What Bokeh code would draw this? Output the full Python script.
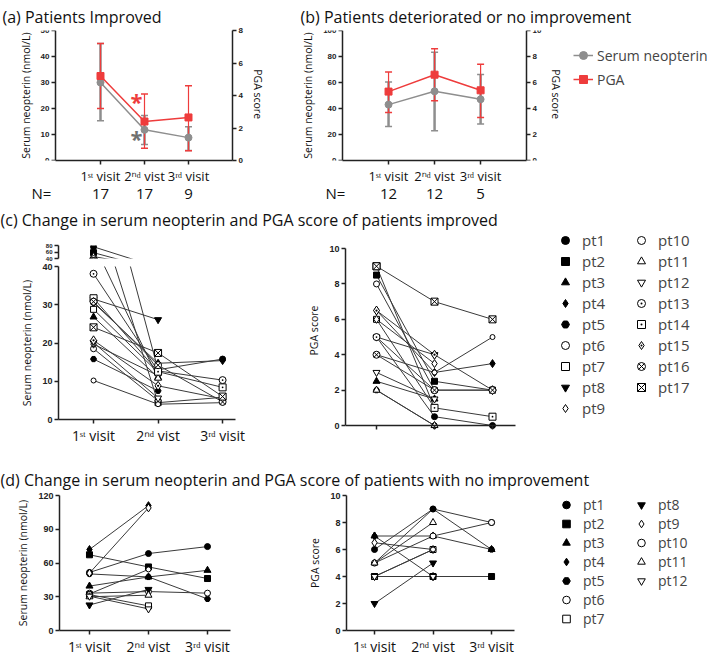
from bokeh.plotting import figure
from bokeh.models import (Range1d, LinearAxis, FixedTicker, SingleIntervalTicker, Whisker, TeeHead,
                          ColumnDataSource, Legend, LegendItem, Label)
from bokeh.layouts import column, row
from bokeh.embed import file_html
from bokeh.resources import INLINE

# ---------------- data ----------------
visits = [1, 2, 3]
visit_labels = ["1ˢᵗ visit", "2ⁿᵈ vist", "3ʳᵈ visit"]

# (a) patients improved: mean and error-bar limits
a_neo_mean = [30.0, 11.8, 8.8]
a_neo_lo = [15.3, 6.2, 3.8]
a_neo_hi = [45.0, 17.3, 13.0]
a_pga_mean = [5.2, 2.4, 2.65]
a_pga_lo = [3.2, 0.75, 0.6]
a_pga_hi = [7.2, 4.1, 4.6]
a_n = [17, 17, 9]

# (b) deteriorated / no improvement
b_neo_mean = [43.0, 53.2, 47.1]
b_neo_lo = [26.2, 22.9, 28.0]
b_neo_hi = [60.3, 83.2, 66.2]
b_pga_mean = [5.3, 6.6, 5.4]
b_pga_lo = [3.7, 4.6, 3.3]
b_pga_hi = [6.8, 8.6, 7.4]
b_n = [12, 12, 5]

# (c) individual patients improved
c_names = ["pt1", "pt2", "pt3", "pt4", "pt5", "pt6", "pt7", "pt8", "pt9",
           "pt10", "pt11", "pt12", "pt13", "pt14", "pt15", "pt16", "pt17"]
c_neo = [
    [76.0, 13.0, 15.8], [58.0, 4.4, 5.8], [26.8, 11.0], [30.5, 14.7, 15.4],
    [15.8, 7.5], [18.5, 4.9], [28.8, 12.3], [31.5, 26.1], [19.7, 11.5],
    [10.2, 4.0, 4.4], [46.0, 10.8], [20.1, 5.6], [38.1, 12.7, 10.3],
    [31.7, 12.5, 8.4], [20.7, 8.8, 5.4], [30.8, 14.2, 4.6], [24.1, 17.4, 6.0],
]
c_pga = [
    [5, 0.5, 0], [8.5, 2.5, 2], [2.5, 1.5], [6.5, 3, 3.5], [2, 0], [8, 2],
    [6, 1], [5, 4], [6, 3.5], [4, 3, 5], [2, 0], [3, 1.5], [5, 2, 2],
    [9, 1, 0.5], [6.5, 4, 2], [4, 2, 2], [9, 7, 6],
]

# (d) individual patients with no improvement
d_names = c_names[:12]
d_neo = [
    [51.6, 68.4, 74.6], [67.3, 56.5, 46.2], [39.5, 47.6, 53.5], [72.0, 111.0],
    [50.3, 47.6, 28.1], [33.2, 34.6, 33.2], [31.9, 21.9], [22.7, 36.5],
    [51.0, 109.0], [32.5, 54.3], [30.0, 31.4], [30.5, 19.2],
]
d_pga = [
    [6, 9, 8], [4, 4, 4], [7, 7, 6], [7, 4], [5, 9, 6], [5, 7, 8],
    [4, 6], [2, 5], [6.5, 6], [4, 6], [5, 8], [4, 4],
]

MARKERS = ["circle", "square", "triangle", "diamond", "hex", "circle", "square",
           "inverted_triangle", "diamond", "circle", "triangle", "inverted_triangle",
           "circle_dot", "square_dot", "diamond_dot", "circle_x", "square_x"]
FILLED = [1, 1, 1, 1, 1, 0, 0, 1, 0, 0, 0, 0, 0, 0, 0, 0, 0]
SIZES = [6, 6, 7, 8, 6, 6, 6, 7, 8, 5, 7, 7, 7, 7, 9, 7, 7]

# ---------------- style ----------------
FONT = "Open Sans"
TFONT = "Liberation Sans"
AX = "#222222"
GREY = "#8e8e8e"
RED = "#ee3c3c"
LINE = "#3a3a3a"
TXT = "#111111"


def new_fig(xr, yr, fw, fh, ml, mr, mt, mb, title=None):
    p = figure(x_range=xr, y_range=yr, frame_width=fw, frame_height=fh,
               min_border_left=ml, min_border_right=mr, min_border_top=mt, min_border_bottom=mb,
               x_axis_location=None, y_axis_location=None, toolbar_location=None,
               output_backend="svg", title=title)
    p.outline_line_color = None
    p.grid.visible = False
    if title:
        p.title.text_font = FONT
        p.title.text_font_size = "16px"
        p.title.text_font_style = "normal"
        p.title.text_color = TXT
        p.title.standoff = 5
    return p


def style(ax, size):
    ax.axis_line_color = AX
    ax.axis_line_width = 1.5
    ax.major_tick_line_color = AX
    ax.major_tick_line_width = 1.5
    ax.major_tick_out = 4
    ax.major_tick_in = 0
    ax.minor_tick_line_color = None
    ax.major_label_text_font = TFONT
    ax.major_label_text_font_style = "bold"
    ax.major_label_text_font_size = size
    ax.major_label_text_color = AX
    ax.major_label_standoff = 2
    ax.axis_label_text_font = FONT
    ax.axis_label_text_font_style = "normal"
    ax.axis_label_text_font_size = "10.5px"
    ax.axis_label_text_color = TXT
    ax.axis_label_standoff = 5


def add_y(p, interval, bounds, side, label, name="default", size="8px", fixed=None):
    ax = LinearAxis(y_range_name=name, ticker=SingleIntervalTicker(interval=interval),
                    bounds=bounds, axis_label=label)
    if fixed is not None:
        ax.fixed_location = fixed
    style(ax, size)
    p.add_layout(ax, side)
    return ax


def add_x(p, bounds=None, fixed=None, size="14px"):
    ax = LinearAxis(ticker=FixedTicker(ticks=visits),
                    major_label_overrides={v: t for v, t in zip(visits, visit_labels)})
    if bounds is not None:
        ax.bounds = bounds
    if fixed is not None:
        ax.fixed_location = fixed
    style(ax, size)
    ax.major_label_text_font = FONT
    ax.major_label_text_font_style = "normal"
    ax.major_label_text_color = TXT
    ax.major_label_standoff = 2
    p.add_layout(ax, "below")
    return ax


def add_n(p, counts, nx):
    ticks = [nx] + visits
    labels = {nx: "N="}
    labels.update({v: str(c) for v, c in zip(visits, counts)})
    ax = LinearAxis(ticker=FixedTicker(ticks=ticks), major_label_overrides=labels)
    ax.axis_line_color = None
    ax.major_tick_line_color = None
    ax.minor_tick_line_color = None
    ax.major_tick_out = 0
    ax.major_tick_in = 0
    ax.major_label_standoff = -5
    ax.major_label_text_font = FONT
    ax.major_label_text_font_size = "15px"
    ax.major_label_text_color = TXT
    p.add_layout(ax, "below")


def summary(p, mean, lo, hi, color, marker, name, bar_w):
    src = ColumnDataSource(dict(x=visits, m=mean, lo=lo, hi=hi))
    w = Whisker(source=src, base="x", lower="lo", upper="hi", line_color=color, line_width=bar_w,
                upper_head=TeeHead(size=7, line_color=color, line_width=1.5),
                lower_head=TeeHead(size=7, line_color=color, line_width=1.5),
                y_range_name=name)
    p.add_layout(w)
    ln = p.line("x", "m", source=src, line_color=color, line_width=1.5, y_range_name=name)
    sc = p.scatter("x", "m", source=src, marker=marker, size=7, fill_color=color,
                   line_color=color, y_range_name=name)
    return ln, sc


def patients(p, data):
    for vals in data:
        p.line(visits[:len(vals)], vals, line_color=LINE, line_width=1)
    rs = []
    for i, vals in enumerate(data):
        r = p.scatter(visits[:len(vals)], vals, marker=MARKERS[i], size=SIZES[i],
                      line_color="black", line_width=1,
                      fill_color="black" if FILLED[i] else "white")
        rs.append(r)
    return rs


def pt_legend(rs, names, nrows, spacing, h, fsize):
    return Legend(items=[LegendItem(label=n, renderers=[r]) for n, r in zip(names, rs)],
                  nrows=nrows, location="top_left", orientation="vertical",
                  margin=0, padding=0, spacing=spacing, glyph_width=20, glyph_height=h,
                  label_height=h, label_width=48, label_standoff=7,
                  label_text_font=FONT, label_text_font_size=fsize,
                  border_line_color=None, background_fill_alpha=0)


# ---------------- (a) ----------------
pA = new_fig(Range1d(-0.909, 4.0), Range1d(0, 50), 216, 130, 16, 58, 30, 46,
             title="(a) Patients Improved")
pA.title.offset = -14
pA.extra_y_ranges = {"pga": Range1d(0, 8)}
add_y(pA, 10, (0, 50), "left", "Serum neopterin (nmol/L)", fixed=-0.023)
add_y(pA, 2, (0, 8), "right", "PGA  score", name="pga")
add_x(pA, bounds=(-0.023, 4.0), size="13px")
add_n(pA, a_n, -0.341)
summary(pA, a_neo_mean, a_neo_lo, a_neo_hi, GREY, "circle", "default", 2.5)
summary(pA, a_pga_mean, a_pga_lo, a_pga_hi, RED, "square", "pga", 1.2)
pA.add_layout(Label(x=1.82, y=23.0, text="*", text_color=RED, text_font=FONT,
                    text_font_size="22px", text_font_style="bold", text_align="center",
                    text_baseline="middle"))
pA.add_layout(Label(x=1.82, y=8.8, text="*", text_color="#707070", text_font=FONT,
                    text_font_size="22px", text_font_style="bold", text_align="center",
                    text_baseline="middle"))

# ---------------- (b) ----------------
pB = new_fig(Range1d(-0.913, 7.93), Range1d(0, 100), 407, 130, 10, 0, 30, 46,
             title="(b) Patients deteriorated or no improvement")
pB.title.offset = 0
pB.extra_y_ranges = {"pga": Range1d(0, 10)}
add_y(pB, 20, (0, 100), "left", "Serum neopterin (nmol/L)", fixed=0.0)
add_y(pB, 2, (0, 10), "right", "PGA  score", name="pga", fixed=4.0)
add_x(pB, bounds=(0.0, 4.0), size="13px")
add_n(pB, b_n, -0.152)
gl, gs = summary(pB, b_neo_mean, b_neo_lo, b_neo_hi, GREY, "circle", "default", 2.5)
rl, rs_ = summary(pB, b_pga_mean, b_pga_lo, b_pga_hi, RED, "square", "pga", 1.2)
legB = Legend(items=[LegendItem(label="Serum neopterin", renderers=[gl, gs]),
                     LegendItem(label="PGA", renderers=[rl, rs_])],
              location=(273, 71), orientation="vertical", margin=0, padding=0, spacing=4,
              glyph_width=20, glyph_height=20, label_height=20, label_standoff=4,
              label_text_font=FONT, label_text_font_size="14px",
              border_line_color=None, background_fill_alpha=0)
pB.add_layout(legB)


# ---------------- titles (c) / (d) ----------------
def title_fig(text):
    t = figure(width=709, height=24, min_border=0, x_axis_location=None, y_axis_location=None,
               toolbar_location=None, output_backend="svg", title=text)
    t.outline_line_color = None
    t.grid.visible = False
    t.title.text_font = FONT
    t.title.text_font_size = "16px"
    t.title.text_font_style = "normal"
    t.title.text_color = TXT
    t.title.standoff = 0
    return t


tC = title_fig("(c) Change in serum neopterin  and PGA score of patients improved")
tD = title_fig("(d) Change in serum neopterin  and PGA score of patients with no improvement")

# ---------------- (c) ----------------
cx = Range1d(0.457, 3.2)
cTop = new_fig(cx, Range1d(40, 80), 177, 13, 58, 20, 15, 4)
add_y(cTop, 20, (40, 80), "left", "", size="6px")
patients(cTop, c_neo)

cMain = new_fig(cx, Range1d(0, 40), 177, 153, 58, 20, 4, 47)
add_y(cMain, 10, (0, 40), "left", "Serum neopterin (nmol/L)", size="9px")
add_x(cMain)
patients(cMain, c_neo)

cR = new_fig(Range1d(0.4655, 4.086), Range1d(-0.28, 11.02), 210, 200, 90, 0, 0, 36)
add_y(cR, 2, (0, 10), "left", "PGA score", size="9px")
add_x(cR, bounds=(0.4655, 3.4), fixed=0)
c_rs = patients(cR, c_pga)
cR.add_layout(pt_legend(c_rs, c_names, 9, 1, 20, "15px"), "right")

# ---------------- (d) ----------------
dL = new_fig(Range1d(0.492, 3.39), Range1d(0, 120), 171, 135, 59, 20, 5, 26)
add_y(dL, 30, (0, 120), "left", "Serum neopterin (nmol/L)", size="9px")
add_x(dL)
patients(dL, d_neo)

dR = new_fig(Range1d(0.521, 4.11), Range1d(0, 10), 210, 135, 96, 0, 5, 26)
add_y(dR, 2, (0, 10), "left", "PGA score", size="9px")
add_x(dR, bounds=(0.521, 3.393))
d_rs = patients(dR, d_pga)
dR.add_layout(pt_legend(d_rs, d_names, 7, 0, 19, "14px"), "right")

layout = column(row(pA, pB), tC, row(column(cTop, cMain), cR), tD, row(dL, dR))

open("out.html", "w").write(file_html(layout, INLINE, title="Neopterin and PGA"))
